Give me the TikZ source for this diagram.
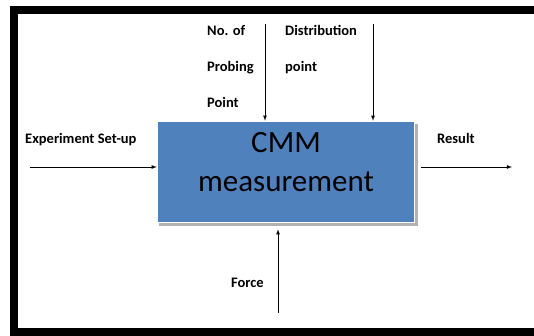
\documentclass[tikz,border=0pt]{standalone}
\usepackage{fontspec}
\setmainfont{Carlito}
\usepackage{tikz}
\usetikzlibrary{shapes,arrows,positioning}
\definecolor{boxblue}{HTML}{4F81BD}
\tikzstyle{procbox} = [draw=white, line width=1.5pt, rectangle, fill=boxblue, minimum width=257pt, minimum height=101pt, inner sep=0pt, align=center, text depth=21pt, font=\fontsize{31}{39}\selectfont]
\tikzstyle{lbl} = [font=\fontsize{14.5}{36}\selectfont\bfseries, inner sep=0pt, align=left]
\tikzstyle{flow} = [-latex, line width=0.8pt]

\begin{document}
\begin{tikzpicture}[x=1pt,y=-1pt]
\useasboundingbox (0,0) rectangle (534,336);
\draw[line width=8pt] (14,10) -- (540,10);
\draw[line width=8pt] (14,6) -- (14,340);
\draw[line width=8pt] (14,332) -- (540,332);
% shadow then the process box
\fill[black!30] (159,124) rectangle (418,226);
\node [procbox] (cmm) at (286,172) {CMM\\measurement};
% inputs and output
\coordinate (inL) at (30,167);
\coordinate (outR) at (512,167);
\coordinate (topA) at (265,24);
\coordinate (topB) at (373,24);
\coordinate (botF) at (278,313);
\draw [flow] (inL) -- (inL -| cmm.west);
\draw [flow] (cmm.east |- outR) ++(6,0) -- (outR);
\draw [flow] (topA) -- (topA |- cmm.north);
\draw [flow] (topB) -- (topB |- cmm.north);
\draw [flow] (botF) -- ([yshift=-6pt]botF |- cmm.south);
% labels
\node [lbl, anchor=base west] (setup) at (25,144) {Experiment Set-up};
\node [lbl, anchor=base west] (result) at (437,144) {Result};
\node [lbl, anchor=north west] (probe) at (207,25) {No. of\\Probing\\Point};
\node [lbl, anchor=north west] (distr) at (285,25) {Distribution\\point};
\node [lbl, anchor=base west] (force) at (231,287) {Force};
\end{tikzpicture}
\end{document}
